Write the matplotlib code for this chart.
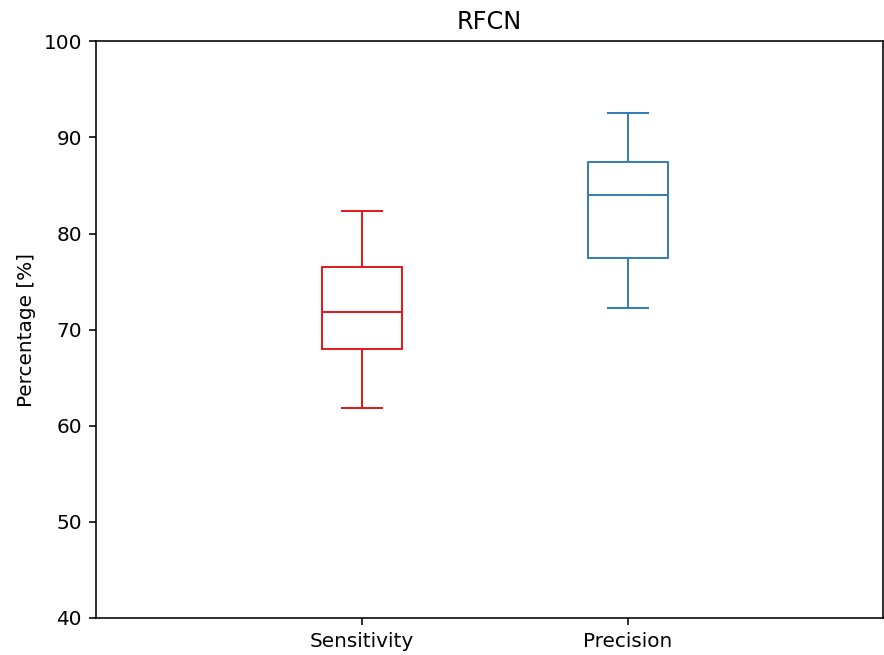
import numpy as np
import matplotlib
matplotlib.use("Agg")
import matplotlib.pyplot as plt

## box stats
labels = ["Sensitivity", "Precision"]
whislo = [61.8, 72.2]
q1 = [68.0, 77.5]
med = [71.8, 84.0]
q3 = [76.5, 87.4]
whishi = [82.3, 92.5]
colors = ["#e41a1c", "#377eb8"]

stats = []
for i in range(len(labels)):
    stats.append({"label": labels[i], "whislo": whislo[i], "q1": q1[i],
                  "med": med[i], "q3": q3[i], "whishi": whishi[i], "fliers": []})

## reference looks like default style rendered at ~144 dpi
dpi = 144
fig = plt.figure(figsize=(884 / dpi, 655 / dpi), dpi=dpi)
ax = fig.add_axes([0.1086, 0.0565, 0.8904, 0.8805])

for i, s in enumerate(stats):
    c = colors[i]
    ax.bxp([s], positions=[i + 1], widths=0.3, showfliers=False,
           boxprops=dict(color=c), whiskerprops=dict(color=c),
           capprops=dict(color=c), medianprops=dict(color=c))

ax.set_xlim(0, 2.96)
ax.set_ylim(40, 100)
ax.set_xticks([1, 2])
ax.set_xticklabels(labels)
ax.set_ylabel("Percentage [%]")
ax.set_title("RFCN")

fig.savefig("out.png", dpi=dpi)
